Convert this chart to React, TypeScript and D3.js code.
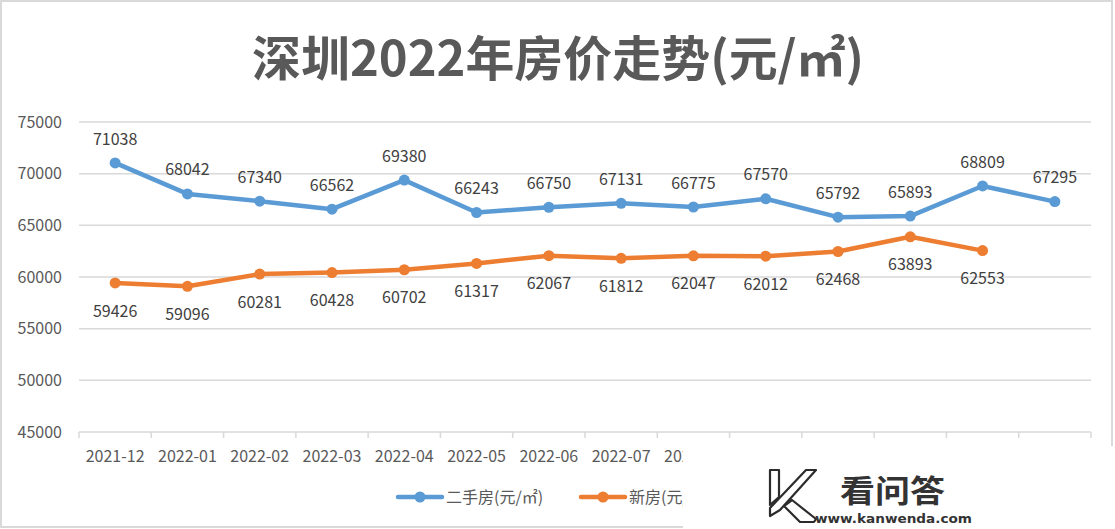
import React from "react";
import * as d3 from "d3";

const categories = [
  "2021-12", "2022-01", "2022-02", "2022-03", "2022-04", "2022-05", "2022-06",
  "2022-07", "2022-08", "2022-09", "2022-10", "2022-11", "2022-12", "2023-01",
];
const secondHand = [71038, 68042, 67340, 66562, 69380, 66243, 66750, 67131, 66775, 67570, 65792, 65893, 68809, 67295];
const newHomes = [59426, 59096, 60281, 60428, 60702, 61317, 62067, 61812, 62047, 62012, 62468, 63893, 62553];
const yTicks = [45000, 50000, 55000, 60000, 65000, 70000, 75000];
const seriesNames = ["二手房(元/㎡)", "新房(元/㎡)"];
const title = "深圳2022年房价走势(元/㎡)";

const W = 1115, H = 529;
const FONT = "'Noto Sans CJK SC', 'Noto Sans', sans-serif";
const TXT = "#595959";
const LBL = "#404040";
const GRID = "#D9D9D9";
const BLUE = "#5B9BD5";
const ORANGE = "#ED7D31";

export default function App() {
  const x = d3.scaleBand<string>().domain(categories).range([79, 1091]);
  const y = d3.scaleLinear().domain([45000, 75000]).range([432, 122]);
  const cx = (i: number) => (x(categories[i]) as number) + x.bandwidth() / 2;
  const line = d3.line<number>().x((_, i) => cx(i)).y((d) => y(d));

  const series = [
    { vals: secondHand, color: BLUE, dy: -24 },
    { vals: newHomes, color: ORANGE, dy: 28 },
  ];

  return (
    <svg width={W} height={H} style={{ position: "fixed", left: 0, top: 0, background: "#fff" }} fontFamily={FONT}>
      <rect x={0} y={0} width={W} height={H} fill="#fff" />
      {/* frame */}
      <rect x={1} y={1} width={1111} height={526} fill="none" stroke={GRID} strokeWidth={2} />
      {/* title */}
      <text x={252} y={76} fontSize={48} fontWeight="bold" fill={TXT} textLength={612} lengthAdjust="spacingAndGlyphs">{title}</text>
      {/* gridlines */}
      {yTicks.map((t) => (
        <line key={t} x1={79} x2={1091} y1={y(t)} y2={y(t)} stroke={GRID} strokeWidth={1.5} />
      ))}
      {yTicks.map((t) => (
        <text key={"l" + t} x={62} y={y(t)} dy="0.35em" textAnchor="end" fontSize={16} fill={TXT}>{t}</text>
      ))}
      {/* x ticks */}
      {d3.range(categories.length + 1).map((i) => {
        const xx = i < categories.length ? (x(categories[i]) as number) : 1091;
        return <line key={"t" + i} x1={xx} x2={xx} y1={432} y2={438} stroke={GRID} strokeWidth={1.5} />;
      })}
      {categories.map((c, i) => (
        <text key={c} x={cx(i)} y={462} textAnchor="middle" fontSize={16} fill={TXT}>{c}</text>
      ))}
      {/* series */}
      {series.map((s, si) => (
        <g key={si}>
          <path d={line(s.vals) as string} fill="none" stroke={s.color} strokeWidth={4.5} strokeLinejoin="round" strokeLinecap="round" />
          {s.vals.map((v, i) => (
            <circle key={i} cx={cx(i)} cy={y(v)} r={5.5} fill={s.color} />
          ))}
          {s.vals.map((v, i) => (
            <text key={"v" + i} x={cx(i)} y={y(v) + s.dy} dy="0.35em" textAnchor="middle" fontSize={16} fill={LBL}>{v}</text>
          ))}
        </g>
      ))}
      {/* legend */}
      {[{ x0: 398, c: BLUE, n: seriesNames[0] }, { x0: 581, c: ORANGE, n: seriesNames[1] }].map((l, i) => (
        <g key={"lg" + i}>
          <line x1={l.x0} x2={l.x0 + 44} y1={497} y2={497} stroke={l.c} strokeWidth={4.5} strokeLinecap="round" />
          <circle cx={l.x0 + 22} cy={497} r={5.5} fill={l.c} />
          <text x={l.x0 + 48} y={497} dy="0.35em" fontSize={16} fill={TXT}>{l.n}</text>
        </g>
      ))}
      {/* watermark box */}
      <rect x={683} y={446} width={432} height={83} fill="#fff" />
      <g fill="#fff" stroke="#2b2b2b" strokeWidth={2.2} strokeLinejoin="round">
        <polygon points="770,470 779,470 779,497 770,505" />
        <polygon points="806,470 816,470 780,510 770,516 770,508" />
        <polygon points="784,506 792,500 816,519 814,522 800,522" />
      </g>
      <text x={840} y={502} fontSize={31} fontWeight="bold" fill="#333" textLength={105} lengthAdjust="spacingAndGlyphs">看问答</text>
      <text x={815} y={523} fontSize={12} fontWeight="bold" fill="#333" fontFamily="'DejaVu Sans', sans-serif" textLength={157} lengthAdjust="spacingAndGlyphs">www.kanwenda.com</text>
    </svg>
  );
}
